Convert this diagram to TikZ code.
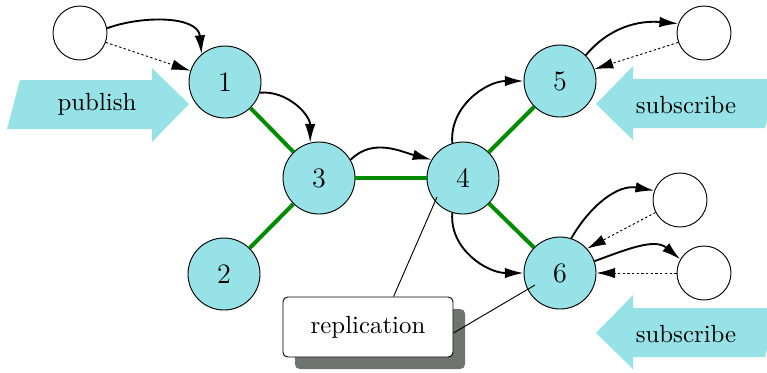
\documentclass[tikz,border=0pt]{standalone}
\usepackage{tikz}
\usepackage{xcolor}
\usetikzlibrary{arrows.meta,shadows}

\definecolor{nodecyan}{RGB}{150,226,230}
\definecolor{linkgreen}{RGB}{0,140,0}
\definecolor{shadowgray}{RGB}{112,116,112}

\begin{document}
\begin{tikzpicture}[x=0.15mm,y=-0.15mm,
    broker/.style={circle,draw,fill=nodecyan,minimum size=10.8mm,inner sep=0pt,font=\large},
    client/.style={circle,draw,fill=white,minimum size=8.1mm,inner sep=0pt},
    label/.style={font=\fontsize{10.6}{12}\selectfont},
    link/.style={linkgreen,line width=1.7pt},
    flow/.style={thick,-{Latex[length=8pt,width=4.5pt]}},
    ack/.style={dash pattern=on 1pt off 1pt,-{Latex[length=8pt,width=4.5pt]}},
    note/.style={draw,fill=white,rounded corners=2pt,minimum width=25.5mm,minimum height=9mm,
      drop shadow={shadow xshift=1.8mm,shadow yshift=-1.8mm,fill=shadowgray,opacity=1}}]
  \useasboundingbox (0,0) rectangle (767,372);

  % big arrows
  \fill[nodecyan] (7,129) -- (20,80) -- (152,80) -- (152,68) -- (189,104) -- (152,142) -- (152,129) -- cycle;
  \node[label] (pub) at (97,104) {publish};
  \fill[nodecyan] (778,79) -- (765,128) -- (633,128) -- (633,140) -- (596,104) -- (633,66) -- (633,79) -- cycle;
  \node[label] (subA) at (686,105) {subscribe};
  \begin{scope}[yshift=-229*0.15mm]
    \fill[nodecyan] (778,79) -- (765,128) -- (633,128) -- (633,140) -- (596,104) -- (633,66) -- (633,79) -- cycle;
    \node[label] (subB) at (686,105) {subscribe};
  \end{scope}

  % brokers
  \node[broker] (n1) at (225,82) {1};
  \node[broker] (n2) at (224,274) {2};
  \node[broker] (n3) at (319,178) {3};
  \node[broker] (n4) at (463,178) {4};
  \node[broker] (n5) at (560,81) {5};
  \node[broker] (n6) at (560,273) {6};
  \draw[link] (n1) -- (n3);
  \draw[link] (n2) -- (n3);
  \draw[link] (n3) -- (n4);
  \draw[link] (n4) -- (n5);
  \draw[link] (n4) -- (n6);

  % clients
  \node[client] (c1) at (80,33) {};
  \node[client] (c5) at (704,33) {};
  \node[client] (c6a) at (680,200) {};
  \node[client] (c6b) at (704,273) {};

  \draw[flow] (c1.10) to[out=20,in=95] (n1.130);
  \draw[ack] (c1.-20) -- (n1.162);
  \draw[flow] (n1.-17) to[out=5,in=90] (n3.104);
  \draw[flow] (n3.30) to[out=45,in=165] (n4.150);
  \draw[flow] (n4.107) to[out=95,in=180] (n5.west);
  \draw[flow] (n4.-107) to[out=-95,in=180] (n6.west);
  \draw[flow] (n5.45) to[out=50,in=175] (c5.160);
  \draw[ack] (c5.-160) -- (n5.19);
  \draw[flow] (n6.72) to[out=60,in=170] (c6a.160);
  \draw[ack] (c6a.-153) -- (n6.42);
  \draw[flow] (n6.19) to[out=20,in=140] (c6b.150);
  \draw[ack] (c6b.west) -- (n6.east);

  % replication note
  \node[note,label] (rep) at (368,327) {replication};
  \coordinate (r4) at (437,197);
  \coordinate (r6) at (535,285);
  \draw (rep.50) -- (r4);
  \draw (rep.-4) -- (r6);
\end{tikzpicture}
\end{document}
